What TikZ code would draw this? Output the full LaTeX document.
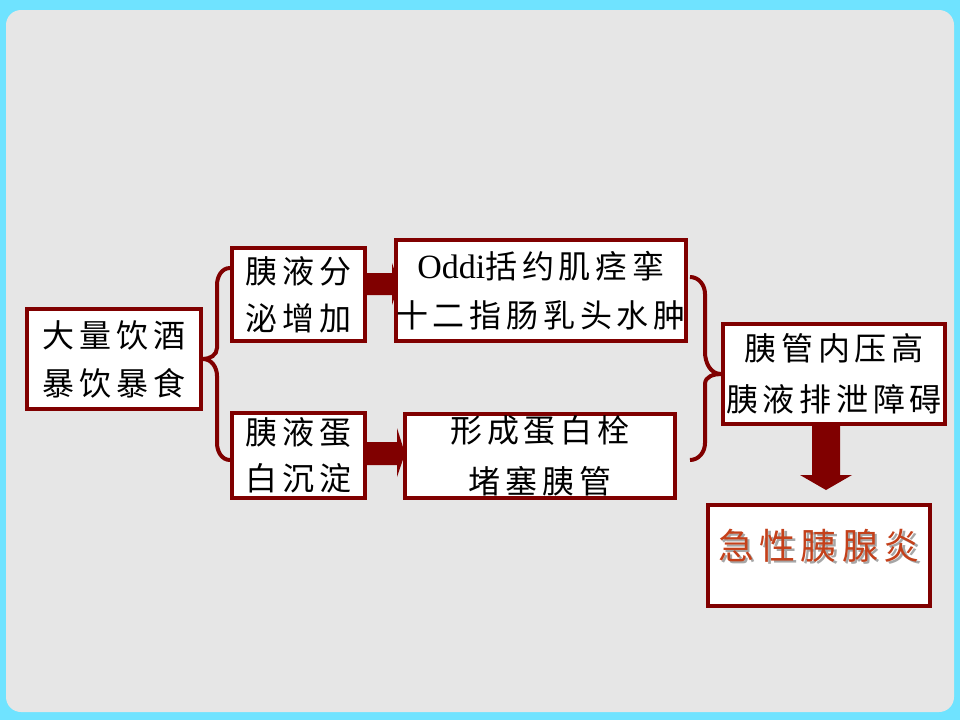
\documentclass[tikz,border=0pt]{standalone}
\usepackage{fontspec}
\setmainfont{Liberation Serif}
\newfontfamily\cjk[LetterSpace=15]{Noto Sans CJK SC}
\usetikzlibrary{calc}
\definecolor{dred}{RGB}{128,0,0}
\definecolor{cyanbg}{RGB}{111,227,255}
\definecolor{graybg}{RGB}{230,230,230}
\definecolor{hotred}{RGB}{196,64,26}
\tikzset{
  box/.style={draw=dred, line width=4pt, fill=white, inner sep=0pt, align=center,
    font=\cjk\fontsize{32}{47}\selectfont},
  brace/.style={draw=dred, line width=4pt}
}
\begin{document}
\begin{tikzpicture}[x=1pt,y=-1pt]
\fill[cyanbg] (0,0) rectangle (960,720);
\fill[graybg, rounded corners=15pt] (6,10) rectangle (954,712);
\useasboundingbox (0,0) rectangle (960,720);

% block arrows first (behind boxes)
\coordinate (a1s) at (367,284);
\coordinate (a2s) at (367,453.5);
\fill[dred] (a1s) ++(0,-11) -- ++(25,0) -- ++(0,-10) -- (399,284) -- (392,305) -- (392,295) -- (367,295) -- cycle;
\fill[dred] (a2s) ++(0,-11.5) -- ++(30,0) -- ++(0,-14) -- (405,453.5) -- (397,477) -- (397,465) -- (367,465) -- cycle;
\fill[dred] (812,426) -- (840,426) -- (840,475) -- (852,475) -- (826,490) -- (800,475) -- (812,475) -- cycle;

\node[box, minimum width=174, minimum height=100] (A) at (114,359) {\raisebox{3pt}{大量饮酒}\\[-2pt]暴饮暴食};
\node[box, minimum width=133, minimum height=93] (B1) at (298.5,294.5) {\raisebox{2pt}{胰液分}\\[-2pt]泌增加};
\node[box, minimum width=133, minimum height=85] (B2) at (298.5,455.5) {\raisebox{3pt}{胰液蛋}\\[-4pt]白沉淀};
\node[box, minimum width=286, minimum height=101] (C1) at (541,290.5)
  {\raisebox{2pt}{{\rmfamily\fontsize{34}{47}\selectfont Oddi}括约肌痉挛}\\十二指肠乳头水肿};
\node[box, minimum width=270, minimum height=84] (C2) at (540,456) {\raisebox{4pt}{形成蛋白栓}\\堵塞胰管};
\node[box, minimum width=222, minimum height=100] (D) at (834,374) {\raisebox{4pt}{胰管内压高}\\胰液排泄障碍};
\node[box, minimum width=222, minimum height=101] (E) at (819,555.5) {};
\node[font=\cjk\fontsize{36}{40}\selectfont] (Etext) at (819,547)
  {\rlap{\kern2.5pt\raisebox{-2.5pt}{\textcolor{black!35}{急性胰腺炎}}}\textcolor{hotred}{急性胰腺炎}};

% left brace
\coordinate (L1) at (230,268);
\coordinate (L2) at (230,460);
\coordinate (Ltip) at (A.east);
\draw[brace] (L1) to[out=180,in=90] (217,285) -- (217,348) to[out=-90,in=0] (Ltip)
  (Ltip) to[out=0,in=90] (217,376) -- (217,443) to[out=-90,in=180] (L2);

% right brace
\coordinate (R1) at (690,277);
\coordinate (R2) at (690,460);
\draw[brace] (R1) to[out=0,in=90] (705,294) -- (705,352) to[out=-90,in=180] (D.west)
  (D.west) to[out=180,in=90] (705,384) -- (705,443) to[out=-90,in=0] (R2);
\end{tikzpicture}
\end{document}
